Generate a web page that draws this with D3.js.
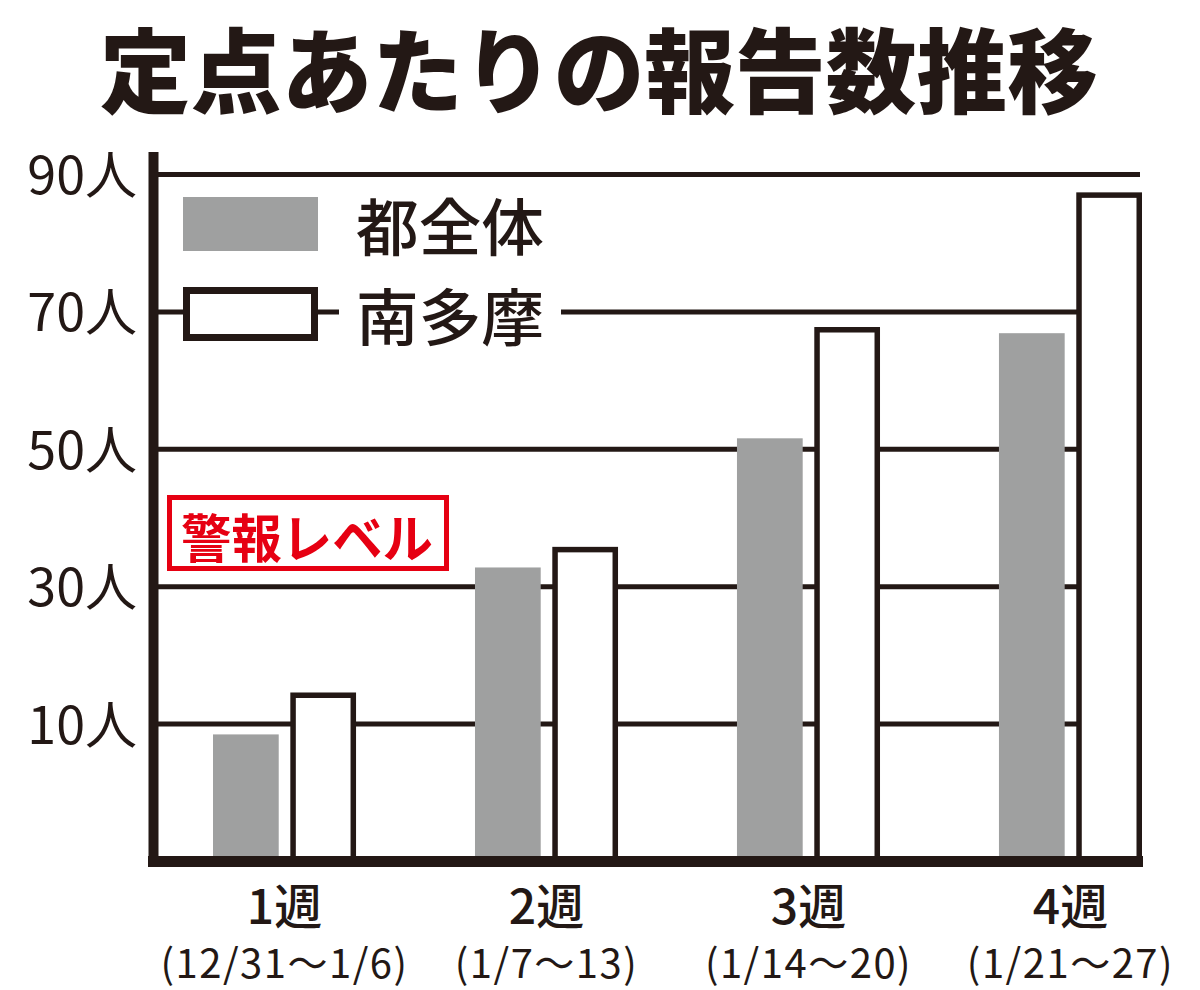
<!DOCTYPE html>
<html>
<head>
<meta charset="utf-8">
<script src="https://cdn.jsdelivr.net/npm/d3@7"></script>
<style>
  body { margin: 0; background: #fff; }
  svg { display: block; font-family: "Noto Sans CJK JP", "Noto Sans", sans-serif; }
</style>
</head>
<body>
<script>
// data
const weeks = ['1週', '2週', '3週', '4週'];
const periods = ['(12/31〜1/6)', '(1/7〜13)', '(1/14〜20)', '(1/21〜27)'];
const series = ['都全体', '南多摩'];
const tokyoValues = [8.5, 32.8, 51.6, 66.9];
const minamiTamaValues = [14.2, 35.4, 67.4, 87.0];
const yTicks = [10, 30, 50, 70, 90];
const alertLabel = '警報レベル';
const title = '定点あたりの報告数推移';

const W = 1200, H = 990;
const ink = '#231815', gray = '#9fa0a0', red = '#e60012';

const svg = d3.select('body').append('svg')
  .attr('width', W)
  .attr('height', H);

// title
svg.append('text')
  .attr('x', 100)
  .attr('y', 65)
  .attr('dominant-baseline', 'central')
  .attr('textLength', 998)
  .attr('lengthAdjust', 'spacingAndGlyphs')
  .style('font-size', '92px')
  .style('font-weight', 900)
  .style('fill', ink)
  .text(title);

// scales
const y = d3.scaleLinear().domain([-10, 90]).range([861.5, 174.5]);

const x = d3.scaleBand().domain(weeks).range([213, 1142]).paddingInner(0.454).paddingOuter(0);
const xs = d3.scaleBand().domain(series).range([0, x.bandwidth()]).paddingInner(0.15);

const rows = weeks.map((w, i) => ({ week: w, period: periods[i], values: [tokyoValues[i], minamiTamaValues[i]] }));

// gridlines
svg.append('g').selectAll('line')
  .data(yTicks)
  .enter().append('line')
  .attr('x1', 155)
  .attr('x2', d => d === 90 ? 1140 : 1142)
  .attr('y1', d => y(d))
  .attr('y2', d => y(d))
  .style('stroke', ink)
  .style('stroke-width', 5);

// y labels
const yAxis = d3.axisLeft(y).tickValues(yTicks).tickSize(0).tickPadding(0).tickFormat(d => d + '人');
const yg = svg.append('g')
  .attr('transform', 'translate(137,0)')
  .call(yAxis);
yg.select('.domain').remove();
yg.selectAll('text')
  .attr('dy', null)
  .attr('dominant-baseline', 'auto')
  .attr('y', 19)
  .style('font-family', '"Noto Sans CJK JP", sans-serif')
  .style('font-size', '52px')
  .style('fill', ink);

// bars
const groups = svg.append('g').selectAll('g')
  .data(rows)
  .enter().append('g')
  .attr('transform', d => `translate(${x(d.week)},0)`);

groups.append('rect')
  .attr('x', xs(series[0]))
  .attr('width', xs.bandwidth())
  .attr('y', d => y(d.values[0]))
  .attr('height', d => y(-10) - y(d.values[0]))
  .style('fill', gray);

groups.append('rect')
  .attr('x', xs(series[1]) + 2.75)
  .attr('width', xs.bandwidth() - 5.5)
  .attr('y', d => y(d.values[1]))
  .attr('height', d => y(-10) - y(d.values[1]))
  .style('fill', '#fff')
  .style('stroke', ink)
  .style('stroke-width', 5.5);

// axes lines
svg.append('line')
  .attr('x1', 153.5).attr('x2', 153.5)
  .attr('y1', 152).attr('y2', 867)
  .style('stroke', ink).style('stroke-width', 10);

svg.append('line')
  .attr('x1', 148).attr('x2', 1143)
  .attr('y1', y(-10)).attr('y2', y(-10))
  .style('stroke', ink).style('stroke-width', 11);

// x labels
groups.append('text')
  .attr('x', x.bandwidth() / 2)
  .attr('y', 903)
  .attr('text-anchor', 'middle')
  .attr('dominant-baseline', 'central')
  .style('font-size', '48px')
  .style('font-weight', 500)
  .style('fill', ink)
  .text(d => d.week);

groups.append('text')
  .attr('x', x.bandwidth() / 2)
  .attr('y', 961)
  .attr('text-anchor', 'middle')
  .attr('dominant-baseline', 'central')
  .style('font-size', '40px')
  .style('letter-spacing', '1.5px')
  .style('fill', ink)
  .text(d => d.period);

// legend
const legend = svg.append('g');
const legendY = [224, 314];

legend.selectAll('rect.bg')
  .data(series)
  .enter().append('rect')
  .attr('class', 'bg')
  .attr('x', 339)
  .attr('y', (d, i) => legendY[i] - 36)
  .attr('width', 222)
  .attr('height', 72)
  .style('fill', '#fff');

legend.append('rect')
  .attr('x', 183).attr('y', 197)
  .attr('width', 135).attr('height', 54)
  .style('fill', gray);

legend.append('rect')
  .attr('x', 186.5).attr('y', 290.5)
  .attr('width', 128).attr('height', 47)
  .style('fill', '#fff')
  .style('stroke', ink)
  .style('stroke-width', 7);

legend.selectAll('text')
  .data(series)
  .enter().append('text')
  .attr('x', 356)
  .attr('y', (d, i) => legendY[i])
  .attr('dominant-baseline', 'central')
  .attr('textLength', 188)
  .attr('lengthAdjust', 'spacingAndGlyphs')
  .style('font-size', '62px')
  .style('font-weight', 500)
  .style('fill', ink)
  .text(d => d);

// alert level box
svg.append('rect')
  .attr('x', 169.5).attr('y', 497.5)
  .attr('width', 277).attr('height', 71)
  .style('fill', '#fff')
  .style('stroke', red)
  .style('stroke-width', 5);

svg.append('text')
  .attr('x', 181)
  .attr('y', 535)
  .attr('dominant-baseline', 'central')
  .attr('textLength', 252)
  .attr('lengthAdjust', 'spacingAndGlyphs')
  .style('font-size', '52px')
  .style('font-weight', 700)
  .style('fill', red)
  .text(alertLabel);
</script>
</body>
</html>
